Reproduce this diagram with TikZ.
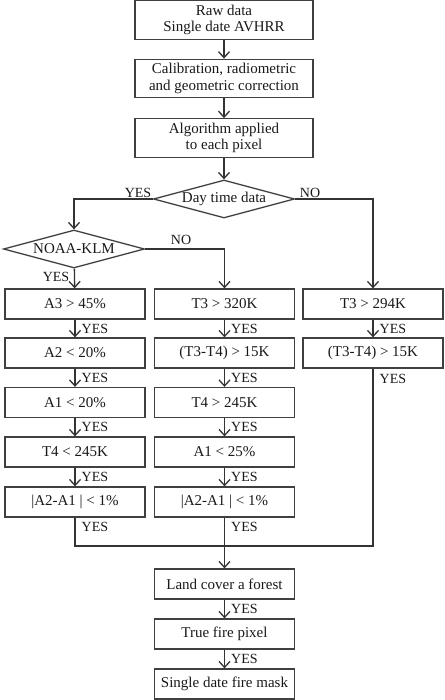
\documentclass[tikz,border=0pt]{standalone}
\usepackage{fontspec}
\setmainfont{Liberation Serif}
\usetikzlibrary{shapes.geometric,arrows.meta}

\begin{document}
\begin{tikzpicture}[x=1pt,y=-1pt,
  box/.style={draw=black!75,line width=1.3pt,text=black!90,inner sep=0pt,
    minimum width=140pt,minimum height=30pt,align=center,
    font=\fontsize{15}{16.5}\selectfont},
  bigbox/.style={box,minimum width=178pt,minimum height=38.5pt},
  decision/.style={diamond,draw=black!75,line width=1.3pt,text=black!90,
    inner sep=0pt,aspect=3.7,minimum width=141pt,minimum height=38pt,
    font=\fontsize{15}{16.5}\selectfont},
  conn/.style={draw=black!80,line width=1.3pt},
  arr/.style={conn,-{Straight Barb[length=6pt,width=11pt,line width=1.3pt]}},
  lbl/.style={text=black!90,inner sep=0pt,font=\fontsize{14}{16}\selectfont},
  yes/.style={lbl,anchor=west,xshift=6pt}]
\useasboundingbox (0,0) rectangle (444,700);

\node[bigbox] (raw) at (224,20) {Raw data\\Single date AVHRR};
\node[bigbox] (calib) at (224,78.5) {Calibration, radiometric\\and geometric correction};
\node[bigbox] (algo) at (224,138) {Algorithm applied\\to each pixel};
\node[decision] (day) at (224,199) {Day time data};
\node[decision] (noaa) at (74,249) {NOAA-KLM};

\node[box] (c1a) at (75,304) {A3 > 45\%};
\node[box] (c1b) at (75,353) {A2 < 20\%};
\node[box] (c1c) at (75,402.5) {A1 < 20\%};
\node[box] (c1d) at (75,452) {T4 < 245K};
\node[box] (c1e) at (75,502) {|A2-A1 | < 1\%};

\node[box] (c2a) at (224.5,304) {T3 > 320K};
\node[box] (c2b) at (224.5,353) {(T3-T4) > 15K};
\node[box] (c2c) at (224.5,402.5) {T4 > 245K};
\node[box] (c2d) at (224.5,452) {A1 < 25\%};
\node[box] (c2e) at (224.5,502) {|A2-A1 | < 1\%};

\node[box] (c3a) at (373,304) {T3 > 294K};
\node[box] (c3b) at (373,353) {(T3-T4) > 15K};

\node[box] (land) at (224.5,584) {Land cover a forest};
\node[box] (fire) at (224.5,634) {True fire pixel};
\node[box] (mask) at (224.5,684) {Single date fire mask};

\node[lbl] (yesday) at (138,193) {YES};
\node[lbl] (noday) at (310,193) {NO};
\node[lbl] (nonoaa) at (181,240) {NO};
\node[lbl] (yesnoaa) at (56,277) {YES};
\coordinate (merge) at (224.5,546);

\draw[arr] (raw) -- (calib);
\draw[arr] (calib) -- (algo);
\draw[arr] (algo) -- (day);
\draw[arr] (day.west) -| (noaa.north);
\draw[arr] (day.east) -| (c3a.north);
\draw[arr] (noaa.east) -| (c2a.north);
\draw[arr] (noaa) -- (c1a);

\draw[arr] (c1a) -- node[yes]{YES} (c1b);
\draw[arr] (c1b) -- node[yes]{YES} (c1c);
\draw[arr] (c1c) -- node[yes]{YES} (c1d);
\draw[arr] (c1d) -- node[yes]{YES} (c1e);
\draw[arr] (c2a) -- node[yes]{YES} (c2b);
\draw[arr] (c2b) -- node[yes]{YES} (c2c);
\draw[arr] (c2c) -- node[yes]{YES} (c2d);
\draw[arr] (c2d) -- node[yes]{YES} (c2e);
\draw[arr] (c3a) -- node[yes]{YES} (c3b);

\draw[conn] (c1e.south) |- node[yes,pos=0.17]{YES} (merge);
\draw[conn] (c3b.south) |- node[yes,pos=0.028]{YES} (merge);
\draw[arr] (c2e.south) -- node[yes,pos=0.19]{YES} (land.north);
\draw[arr] (land) -- node[yes]{YES} (fire);
\draw[arr] (fire) -- node[yes]{YES} (mask);
\end{tikzpicture}
\end{document}
